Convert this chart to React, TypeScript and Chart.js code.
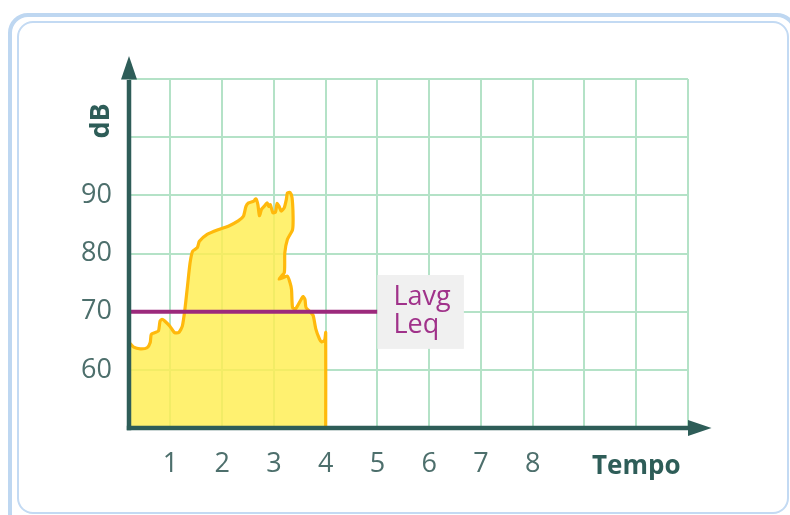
import React, { useEffect, useRef } from 'react';
import { Chart, registerables } from 'chart.js';

Chart.register(...registerables);

// ---- data ----
const timeValues = [
  0.2, 0.29, 0.42, 0.55, 0.61, 0.63, 0.70, 0.77, 0.80, 0.84, 0.89, 0.99,
  1.08, 1.16, 1.23, 1.28, 1.33, 1.38, 1.43, 1.52, 1.56, 1.71, 1.92,
  2.12, 2.31, 2.41, 2.46, 2.51, 2.61, 2.65, 2.69, 2.72, 2.76, 2.81, 2.87, 2.90, 2.93, 2.98,
  3.03, 3.06, 3.10, 3.14, 3.20, 3.24, 3.26, 3.31, 3.35, 3.37, 3.36, 3.26, 3.21, 3.20, 3.10,
  3.26, 3.31, 3.34, 3.36, 3.42, 3.56, 3.60, 3.62, 3.72, 3.76, 3.81, 3.88, 3.92, 3.98, 4.0, 4.0,
];
const dbValues = [
  64.7, 63.9, 63.6, 63.8, 64.7, 66.1, 66.4, 66.7, 68.4, 68.7, 68.4, 67.5,
  66.4, 66.4, 67.5, 70.4, 74.4, 78.4, 80.4, 81.0, 82.1, 83.3, 84.1,
  84.7, 85.6, 86.4, 88.1, 88.7, 89.0, 89.4, 88.4, 86.5, 87.6, 88.1, 88.7, 88.1, 88.4, 87.0,
  87.1, 88.6, 88.1, 87.3, 87.9, 89.3, 90.4, 90.5, 89.6, 86.4, 84.1, 82.4, 80.1, 76.7, 75.6,
  76.1, 75.0, 73.8, 70.7, 70.5, 72.6, 72.1, 70.7, 69.8, 69.3, 67.0, 65.3, 64.8, 65.1, 66.4, 50,
];
const leqValue = 70;
const leqStart = 0.2;
const leqEnd = 5;
const leqLabels = ['Lavg', 'Leq'];
const xTickValues = [1, 2, 3, 4, 5, 6, 7, 8, 9, 10, 11];
const xTickLabels = ['1', '2', '3', '4', '5', '6', '7', '8', '', '', ''];
const yTickValues = [60, 70, 80, 90, 100, 110];
const yTickLabels = ['60', '70', '80', '90', '', ''];
const xTitle = 'Tempo';
const yTitle = 'dB';
const xMin = 0.2;
const xMax = 11;
const yMin = 50;
const yMax = 110;
// label box extent (data units)
const boxX = [5, 6.67];
const boxY = [76.3, 63.6];

const AXIS = '#2e5d58';
const GRID = '#b4e2c7';
const TICK = '#4d6f6c';
const PURPLE = '#9c2a7c';
const FONT = '"Open Sans", "Noto Sans", sans-serif';

const overlayPlugin = {
  id: 'overlay',
  afterDatasetsDraw(chart: any) {
    const { ctx, chartArea: a, scales } = chart;
    const x = scales.x;
    const y = scales.y;
    ctx.save();

    // label box
    const bx0 = x.getPixelForValue(boxX[0]);
    const bx1 = x.getPixelForValue(boxX[1]);
    const by0 = y.getPixelForValue(boxY[0]);
    const by1 = y.getPixelForValue(boxY[1]);
    ctx.fillStyle = '#f0f0f0';
    ctx.fillRect(bx0, by0, bx1 - bx0, by1 - by0);
    ctx.fillStyle = '#a0328a';
    ctx.font = `27px ${FONT}`;
    ctx.textAlign = 'left';
    ctx.textBaseline = 'alphabetic';
    ctx.fillText(leqLabels[0], bx0 + 16, by0 + 30);
    ctx.fillText(leqLabels[1], bx0 + 16, by0 + 58);

    // axes
    ctx.strokeStyle = AXIS;
    ctx.fillStyle = AXIS;
    ctx.lineWidth = 4.5;
    ctx.beginPath();
    ctx.moveTo(a.left, a.bottom + 2.2);
    ctx.lineTo(a.left, a.top + 1);
    ctx.stroke();
    ctx.beginPath();
    ctx.moveTo(a.left - 2.2, a.bottom);
    ctx.lineTo(a.right + 1, a.bottom);
    ctx.stroke();
    // arrows
    ctx.beginPath();
    ctx.moveTo(a.left, a.top - 23);
    ctx.lineTo(a.left - 8, a.top + 0.5);
    ctx.lineTo(a.left + 8, a.top + 0.5);
    ctx.closePath();
    ctx.fill();
    ctx.beginPath();
    ctx.moveTo(a.right + 23.5, a.bottom);
    ctx.lineTo(a.right, a.bottom - 8);
    ctx.lineTo(a.right, a.bottom + 8);
    ctx.closePath();
    ctx.fill();

    // axis titles
    ctx.font = `bold 26px ${FONT}`;
    ctx.fillStyle = AXIS;
    ctx.textAlign = 'center';
    ctx.textBaseline = 'alphabetic';
    ctx.fillText(xTitle, x.getPixelForValue(10), a.bottom + 46);
    ctx.save();
    ctx.translate(a.left - 28, y.getPixelForValue(102.8));
    ctx.rotate(-Math.PI / 2);
    ctx.textBaseline = 'middle';
    ctx.font = `bold 27px ${FONT}`;
    ctx.fillText(yTitle, 0, 0);
    ctx.restore();

    ctx.restore();
  },
};

export default function App() {
  const canvasRef = useRef<HTMLCanvasElement | null>(null);

  useEffect(() => {
    const canvas = canvasRef.current;
    if (!canvas) return;
    const chart = new Chart(canvas, {
      type: 'line',
      data: {
        datasets: [
          {
            label: 'Leq',
            data: [
              { x: leqStart, y: leqValue },
              { x: leqEnd, y: leqValue },
            ],
            borderColor: PURPLE,
            borderWidth: 4,
            pointRadius: 0,
            fill: false,
          },
          {
            label: 'dB',
            data: timeValues.map((t, i) => ({ x: t, y: dbValues[i] })),
            borderColor: '#ffb90c',
            borderWidth: 3.2,
            backgroundColor: 'rgba(255, 238, 80, 0.82)',
            pointRadius: 0,
            tension: 0.2,
            fill: 'start',
          },
        ],
      },
      options: {
        animation: false,
        responsive: false,
        devicePixelRatio: 1,
        layout: { padding: { top: 79, right: 102, left: 0, bottom: 0 } },
        plugins: {
          legend: { display: false },
          tooltip: { enabled: false },
        },
        scales: {
          x: {
            type: 'linear',
            min: xMin,
            max: xMax,
            afterFit: (s: any) => {
              s.height = 87;
            },
            afterBuildTicks: (s: any) => {
              s.ticks = xTickValues.map((v) => ({ value: v }));
            },
            grid: { color: GRID, lineWidth: 2, drawTicks: false },
            border: { display: false },
            ticks: {
              autoSkip: false,
              maxRotation: 0,
              padding: 20,
              color: TICK,
              font: { family: FONT, size: 27 },
              callback: (v: any) => {
                const i = xTickValues.indexOf(Number(v));
                return i >= 0 ? xTickLabels[i] : '';
              },
            },
          },
          y: {
            type: 'linear',
            min: yMin,
            max: yMax,
            afterFit: (s: any) => {
              s.width = 129;
            },
            afterBuildTicks: (s: any) => {
              s.ticks = yTickValues.map((v) => ({ value: v }));
            },
            grid: { color: GRID, lineWidth: 2, drawTicks: false },
            border: { display: false },
            ticks: {
              padding: 17,
              color: TICK,
              font: { family: FONT, size: 27 },
              callback: (v: any) => {
                const i = yTickValues.indexOf(Number(v));
                return i >= 0 ? yTickLabels[i] : '';
              },
            },
          },
        },
      },
      plugins: [overlayPlugin],
    });
    return () => chart.destroy();
  }, []);

  return (
    <div style={{ position: 'fixed', left: 0, top: 0, width: 790, height: 515, overflow: 'hidden', background: '#fff' }}>
      <div
        style={{
          position: 'absolute',
          left: 8,
          top: 12.5,
          width: 789,
          height: 530,
          boxSizing: 'border-box',
          border: '4.5px solid #bed7f1',
          borderRadius: 20,
        }}
      />
      <div
        style={{
          position: 'absolute',
          left: 16.5,
          top: 21,
          width: 772.5,
          height: 492.5,
          boxSizing: 'border-box',
          border: '2px solid #c3daf3',
          borderRadius: 16,
        }}
      />
      <canvas ref={canvasRef} width={790} height={515} style={{ position: 'absolute', left: 0, top: 0 }} />
    </div>
  );
}
